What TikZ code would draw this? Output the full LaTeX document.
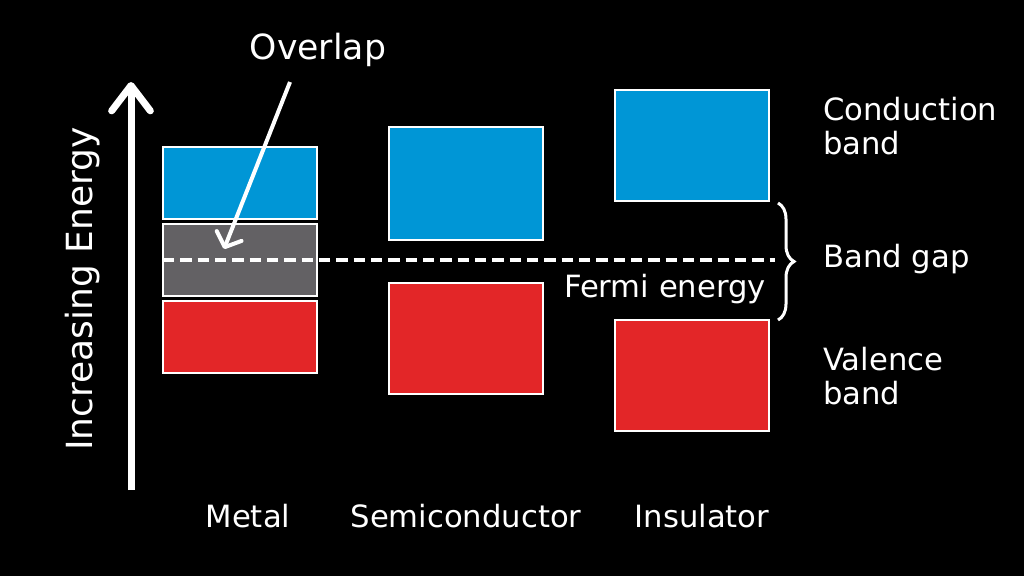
\documentclass[tikz,border=0pt]{standalone}
\usepackage{fontspec}
\setmainfont{DejaVu Sans}
\usetikzlibrary{arrows.meta,decorations.pathreplacing}

\definecolor{cbBlue}{RGB}{0,150,214}
\definecolor{vbRed}{RGB}{227,38,40}
\definecolor{ovGray}{RGB}{99,97,100}

\tikzset{
  band/.style={draw=white, line width=1.5pt, minimum width=115.5pt, inner sep=0pt},
  lbl/.style={text=white, inner sep=0.75pt, font=\fontsize{23}{26}\selectfont},
}

\begin{document}
\begin{tikzpicture}[x=0.75pt,y=0.75pt,yscale=-1,xscale=1]
%background, sets the whole 1024 x 576 frame
\fill[black] (0,0) rectangle (1024,576);
\useasboundingbox (0,0) rectangle (1024,576);

%Metal
\node[band, fill=cbBlue, minimum height=54pt] (mCond) at (240,183) {};
\node[band, fill=ovGray, minimum height=54pt] (mOver) at (240,260) {};
\node[band, fill=vbRed, minimum height=54pt] (mVal) at (240,337) {};
%Semiconductor
\node[band, fill=cbBlue, minimum height=84.75pt] (sCond) at (466,183.5) {};
\node[band, fill=vbRed, minimum height=83.25pt] (sVal) at (466,338.5) {};
%Insulator
\node[band, fill=cbBlue, minimum height=83.25pt] (iCond) at (692,145.5) {};
\node[band, fill=vbRed, minimum height=83.25pt] (iVal) at (692,375.5) {};

%Energy axis
\coordinate (eBot) at (131,490);
\coordinate (eTop) at (131,82);
\draw[white, line width=5.25pt, -{Straight Barb[length=19pt,width=29pt,round]}] (eBot) -- (eTop);
\node[text=white, rotate=90, font=\fontsize{27}{30}\selectfont] (eLbl) at (83,289) {Increasing Energy};

%Fermi level
\coordinate (fLeft) at (163,260);
\coordinate (fRight) at (775,260);
\draw[white, line width=2.8pt, dash pattern=on 8.5pt off 4.5pt] (fLeft) -- (fRight);
\node[lbl] (fLbl) at (665,289) {Fermi energy};

%Band gap brace
\coordinate (gTop) at (778,203);
\coordinate (gBot) at (778,320);
\draw[white, line width=2.25pt, decorate, decoration={brace, amplitude=12pt}] (gTop) -- (gBot);

%Overlap pointer
\node[text=white, inner sep=0.75pt, font=\fontsize{26}{30}\selectfont] (ovl) at (318,50) {Overlap};
\coordinate (ovlStart) at (290,82);
\coordinate (ovlEnd) at (224,249);
\draw[white, line width=3pt, -{Straight Barb[length=9pt,width=20pt,round]}] (ovlStart) -- (ovlEnd);

%Right hand labels
\node[lbl, anchor=west, align=left] (cLbl) at (822,126) {Conduction\\band};
\node[lbl, anchor=west] (gLbl) at (822,259) {Band gap};
\node[lbl, anchor=west, align=left] (vLbl) at (822,376) {Valence\\band};

%Material labels
\node[lbl] (metLbl) at (248,516) {Metal};
\node[lbl] (semLbl) at (466,516) {Semiconductor};
\node[lbl] (insLbl) at (702,516) {Insulator};

\end{tikzpicture}
\end{document}
